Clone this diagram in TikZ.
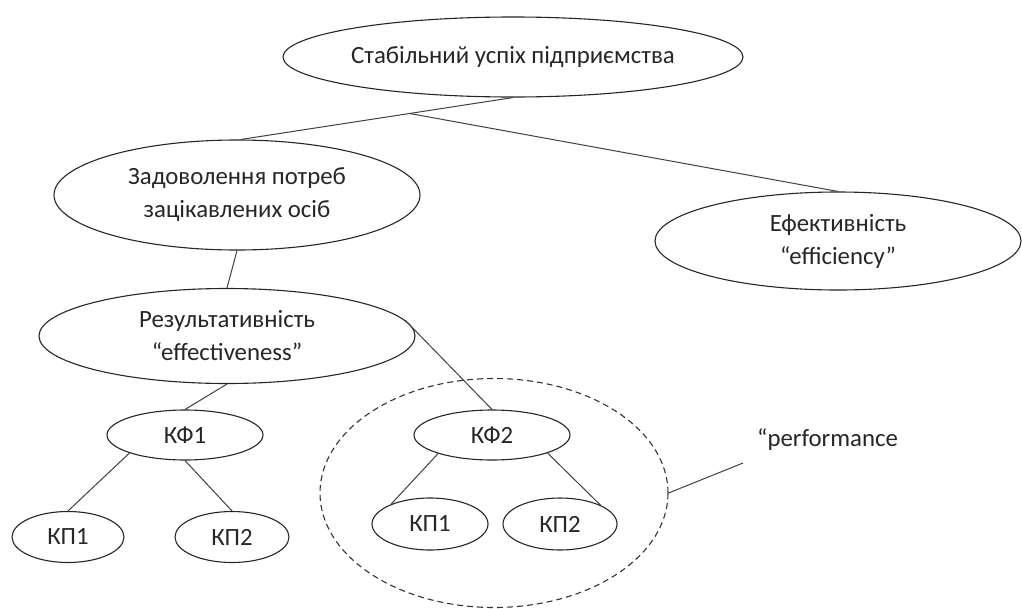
\documentclass[tikz,border=0pt]{standalone}
\usepackage{fontspec}
\setmainfont{Carlito}
\usetikzlibrary{shapes.geometric}
\begin{document}
\begin{tikzpicture}[x=1pt,y=-1pt,
  oval/.style={draw=black!85,line width=1.1pt,ellipse,inner sep=0pt,align=center,
    font=\fontsize{24.8}{33}\selectfont,text=black!85},
  link/.style={draw=black!75,line width=1pt},
  group/.style={draw=black!80,line width=1.1pt,dash pattern=on 6pt off 4pt,ellipse,inner sep=0pt}]
\useasboundingbox (0,0) rectangle (1022,608);
\node[oval,minimum width=460pt,minimum height=80pt] (top) at (513,57) {Стабільний успіх підприємства};
\node[oval,minimum width=366pt,minimum height=110pt] (zad) at (237,195) {Задоволення потреб\\зацікавлених осіб};
\node[oval,minimum width=366pt,minimum height=98pt] (ef) at (838,241) {Ефективність\\“efficiency”};
\node[oval,minimum width=376pt,minimum height=95pt] (res) at (227,336) {Результативність\\“effectiveness”};
\node[group,minimum width=348pt,minimum height=229pt] (grp) at (494,493) {};
\node[oval,minimum width=156pt,minimum height=50pt] (kf1) at (185,435) {КФ1};
\node[oval,minimum width=112pt,minimum height=51pt] (kp11) at (68,537) {КП1};
\node[oval,minimum width=114pt,minimum height=51pt] (kp12) at (232,537) {КП2};
\node[oval,minimum width=156pt,minimum height=50pt] (kf2) at (492,435) {КФ2};
\node[oval,minimum width=116pt,minimum height=52pt] (kp21) at (430,524) {КП1};
\node[oval,minimum width=114pt,minimum height=52pt] (kp22) at (560,524) {КП2};
\node[anchor=west,inner sep=0pt,font=\fontsize{24.8}{28}\selectfont,text=black!85] (perf) at (757,440) {“performance};
\coordinate (pend) at (743,463);
\draw[link] (top.south) -- (zad.86) coordinate[pos=0.38] (br);
\draw[link] (br) -- (ef.north);
\draw[link] (zad.south) -- (res.north);
\draw[link] (res.south) -- (kf1.north);
\draw[link] (res.5) -- (kf2.north);
\draw[link] (kf1.198) -- (kp11.north);
\draw[link] (kf1.south) -- (kp12.north);
\draw[link] (kf2.199) -- (kp21.153);
\draw[link] (kf2.342) -- (kp22.25);
\draw[link] (grp.east) -- (pend);
\end{tikzpicture}
\end{document}
